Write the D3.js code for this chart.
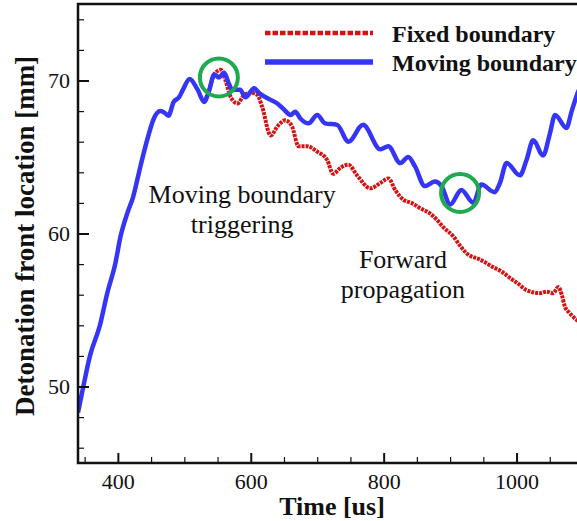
<!DOCTYPE html>
<html>
<head>
<meta charset="utf-8">
<script src="https://cdn.jsdelivr.net/npm/d3@7"></script>
<style>
body{margin:0;background:#fff;}
svg{display:block;}
text{font-family:"Liberation Serif","Times New Roman",serif;fill:#111;}
</style>
</head>
<body>
<div id="chart"></div>
<script>
// Moving boundary (blue) — time [us], front location [mm]
var timeMoving = [340,348,358,373,384,396,404,414,423,434,444,454,464,470,476,484,492,498,508,520,530,537,545,552,560,567,572,584,592,605,612,627,640,650,660,667,675,687,700,712,730,747,769,795,807,825,837,847,862,877,887,900,917,935,947,967,975,985,1005,1015,1025,1040,1050,1058,1075,1083,1092,1100];
var locMoving  = [48.3,50.0,52.0,54.0,56.1,58.0,59.8,61.3,62.4,64.4,66.1,67.5,68.0,67.9,67.7,68.6,68.9,69.4,70.1,69.4,68.6,69.3,70.4,70.2,70.5,69.8,69.4,69.4,68.9,69.5,69.2,68.8,68.5,68.1,67.75,67.95,67.5,67.2,67.75,67.2,67.1,66.0,67.1,65.5,65.7,64.6,65.0,64.4,63.1,63.4,63.1,61.9,62.85,62.0,63.2,62.7,63.3,64.6,63.8,64.8,66.1,65.1,66.5,67.75,66.9,68.0,69.2,69.9];
// Fixed boundary (red)
var timeFixed = [530,537,545,555,562,570,580,590,600,610,617,630,640,652,662,672,685,700,715,724,735,747,760,780,795,807,818,830,842,855,870,880,890,905,915,925,945,965,978,990,1003,1015,1035,1045,1055,1063,1068,1073,1080,1092,1100];
var locFixed  = [68.6,69.3,70.4,70.7,70.0,68.9,68.5,69.05,69.2,69.05,68.3,66.4,67.0,67.4,67.0,65.7,65.7,65.35,64.8,63.9,64.3,64.5,63.8,62.95,63.3,63.6,62.8,62.2,62.0,61.65,61.3,60.9,60.4,59.8,59.2,58.7,58.3,57.8,57.5,57.1,56.7,56.3,56.1,56.2,56.1,56.5,56.0,55.2,54.8,54.3,54.1];

var xMajor = [400,600,800,1000];
var xMinor = [350,450,500,550,650,700,750,850,900,950,1050];
var yMajor = [50,60,70];
var yMinor = [46,48,52,54,56,58,62,64,66,68,72,74];

var seriesNames = ["Fixed boundary","Moving boundary"];
var seriesColors = ["#d41414","#3535f5"];

// highlighted spots (time, location)
var markTime = [552,915];
var markLoc = [70.2,62.65];

var annotations = [
  ["Moving boundary","triggering"],
  ["Forward","propagation"]
];
var annoTime = [587,829];
var annoLoc = [62.0,57.75];

var width = 577, height = 521;
var svg = d3.select("#chart").append("svg")
  .attr("width", width)
  .attr("height", height);

var x = d3.scaleLinear().domain([340,1100]).range([78,583]);
var y = d3.scaleLinear().domain([45,75]).range([463,4]);

svg.append("defs").append("clipPath").attr("id","plotclip")
  .append("rect")
  .attr("x", x(340)).attr("y", y(75))
  .attr("width", x(1100)-x(340)).attr("height", y(45)-y(75));

var fixedData = timeFixed.map(function(t,i){ return [t, locFixed[i]]; });
var movingData = timeMoving.map(function(t,i){ return [t, locMoving[i]]; });

var line = d3.line()
  .x(function(d){ return x(d[0]); })
  .y(function(d){ return y(d[1]); })
  .curve(d3.curveMonotoneX);

var plot = svg.append("g").attr("clip-path","url(#plotclip)");

plot.append("path")
  .datum(fixedData)
  .attr("d", line)
  .style("fill","none")
  .style("stroke", seriesColors[0])
  .style("stroke-width", 4)
  .style("stroke-dasharray","3,1");

plot.append("path")
  .datum(movingData)
  .attr("d", line)
  .style("fill","none")
  .style("stroke", seriesColors[1])
  .style("stroke-width", 4.5)
  .style("stroke-linejoin","round");

// green circles
plot.selectAll("circle.mark")
  .data(markTime)
  .enter()
  .append("circle")
  .attr("class","mark")
  .attr("cx", function(d){ return x(d); })
  .attr("cy", function(d,i){ return y(markLoc[i]); })
  .attr("r", 19)
  .style("fill","none")
  .style("stroke","#1eaa4e")
  .style("stroke-width", 4);

// frame
svg.append("rect")
  .attr("x", x(340)).attr("y", y(75))
  .attr("width", x(1100)-x(340)).attr("height", y(45)-y(75))
  .style("fill","none")
  .style("stroke","#111")
  .style("stroke-width", 2.5);

// axes: minor ticks then major
function styleAxis(g){
  g.select(".domain").remove();
  g.selectAll("line").style("stroke","#111");
}

svg.append("g")
  .attr("transform","translate(0," + y(45) + ")")
  .call(d3.axisBottom(x).tickValues(xMinor).tickSize(-6).tickSizeOuter(0).tickFormat(""))
  .call(styleAxis)
  .selectAll("line").style("stroke-width",1.2);

var xa = svg.append("g")
  .attr("transform","translate(0," + y(45) + ")")
  .call(d3.axisBottom(x).tickValues(xMajor).tickSize(-10).tickSizeOuter(0).tickPadding(10).tickFormat(d3.format("d")))
  .call(styleAxis);
xa.selectAll("line").style("stroke-width",2);
xa.selectAll("text").style("font-size","22px").style("font-family","'Liberation Serif',serif").attr("fill","#111");

svg.append("g")
  .attr("transform","translate(" + x(340) + ",0)")
  .call(d3.axisLeft(y).tickValues(yMinor).tickSize(-6).tickSizeOuter(0).tickFormat(""))
  .call(styleAxis)
  .selectAll("line").style("stroke-width",1.2);

var ya = svg.append("g")
  .attr("transform","translate(" + x(340) + ",0)")
  .call(d3.axisLeft(y).tickValues(yMajor).tickSize(-11).tickSizeOuter(0).tickPadding(8).tickFormat(d3.format("d")))
  .call(styleAxis);
ya.selectAll("line").style("stroke-width",2);
ya.selectAll("text").style("font-size","22px").style("font-family","'Liberation Serif',serif").attr("fill","#111");

// axis titles
svg.append("text")
  .attr("x", 332).attr("y", 515)
  .attr("text-anchor","middle")
  .style("font-size","26px")
  .style("font-weight","bold")
  .text("Time [us]");

svg.append("text")
  .attr("transform","translate(34,236) rotate(-90)")
  .attr("text-anchor","middle")
  .style("font-size","27px")
  .style("font-weight","bold")
  .text("Detonation front location [mm]");

// annotations
annotations.forEach(function(lines,i){
  var t = svg.append("text")
    .attr("text-anchor","middle")
    .style("font-size","26px");
  lines.forEach(function(s,j){
    t.append("tspan")
      .attr("x", x(annoTime[i]))
      .attr("y", y(annoLoc[i]) + j*30)
      .text(s);
  });
});

// legend
var legend = svg.append("g").attr("class","legend");
seriesNames.forEach(function(name,i){
  var ly = 33 + i*29;
  legend.append("line")
    .attr("x1",265).attr("x2",373)
    .attr("y1",ly).attr("y2",ly)
    .style("stroke", seriesColors[i])
    .style("stroke-width", i == 0 ? 4.5 : 5.5)
    .style("stroke-dasharray", i == 0 ? "5.5,2" : null);
  legend.append("text")
    .attr("x",392).attr("y",ly + 8.5)
    .style("font-size","24px")
    .style("font-weight","bold")
    .text(name);
});
</script>
</body>
</html>
